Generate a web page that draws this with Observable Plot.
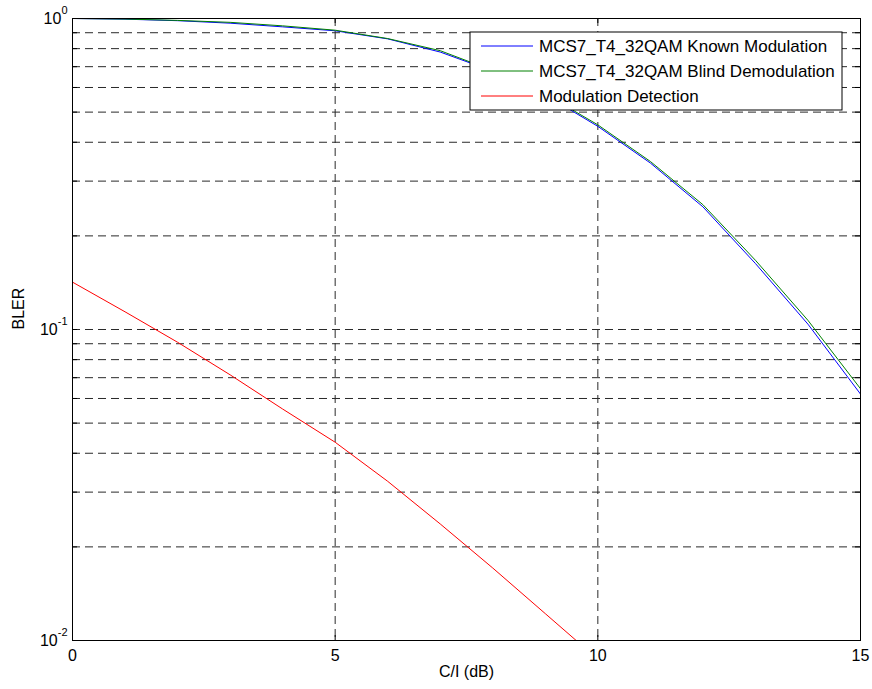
<!DOCTYPE html>
<html>
<head>
<meta charset="utf-8">
<script src="https://cdn.jsdelivr.net/npm/d3@7"></script>
<script src="https://cdn.jsdelivr.net/npm/@observablehq/plot@0.6"></script>
<style>
  html, body { margin: 0; padding: 0; background: white; }
  #chart { width: 872px; height: 689px; }
</style>
</head>
<body>
<div id="chart"></div>
<script>
// ---- data ----
const snr = [0, 1, 2, 3, 4, 5, 6, 7, 8, 9, 10, 11, 12, 13, 14, 15];
const knownMod = [1.0, 0.995, 0.984, 0.966, 0.94, 0.913, 0.86, 0.78, 0.677, 0.568, 0.45, 0.343, 0.248, 0.163, 0.104, 0.062];
const blindDemod = [1.0, 0.996, 0.986, 0.972, 0.947, 0.917, 0.862, 0.788, 0.68, 0.572, 0.455, 0.347, 0.252, 0.167, 0.107, 0.0645];
const snrDet = [0, 1, 2, 3, 4, 5, 6, 7, 8, 9, 10];
const modDetection = [0.142, 0.114, 0.091, 0.0715, 0.0555, 0.0434, 0.0325, 0.0237, 0.0171, 0.0122, 0.0087];

const seriesNames = ["MCS7_T4_32QAM Known Modulation", "MCS7_T4_32QAM Blind Demodulation", "Modulation Detection"];
const seriesColors = ["#0000ff", "#008000", "#ff0000"];

const xTicks = [0, 5, 10, 15];
const yTicks = [0.01, 0.1, 1];
const xGrid = [5, 10];
const yMinor = [0.02, 0.03, 0.04, 0.05, 0.06, 0.07, 0.08, 0.09, 0.1, 0.2, 0.3, 0.4, 0.5, 0.6, 0.7, 0.8, 0.9];
const xLabel = "C/I (dB)";
const yLabel = "BLER";

// ---- tables ----
const rows = [];
snr.forEach((x, i) => rows.push({x, y: knownMod[i], s: seriesNames[0]}));
snr.forEach((x, i) => rows.push({x, y: blindDemod[i], s: seriesNames[1]}));
snrDet.forEach((x, i) => rows.push({x, y: modDetection[i], s: seriesNames[2]}));

const W = 872, H = 689;
const M = {left: 72, right: 12, top: 18, bottom: 49};
const FONT = "'Liberation Sans', Arial, Helvetica, sans-serif";
const grid = {stroke: "#2a2a2a", strokeWidth: 1, strokeDasharray: "8,5"};
const TL = 5; // tick length (px)

const chart = Plot.plot({
  width: W,
  height: H,
  marginLeft: M.left,
  marginRight: M.right,
  marginTop: M.top,
  marginBottom: M.bottom,
  style: {fontFamily: FONT, fontSize: "16px", background: "white", color: "black"},
  x: {domain: [0, 15]},
  y: {type: "log", domain: [0.01, 1]},
  color: {domain: seriesNames, range: seriesColors},
  marks: [
    Plot.ruleY(yMinor, grid),
    Plot.ruleX(xGrid, grid),
    // inward tick marks
    Plot.ruleY(yMinor.concat(yTicks), {x1: 0, x2: 0, insetRight: -TL, stroke: "black"}),
    Plot.ruleY(yMinor.concat(yTicks), {x1: 15, x2: 15, insetLeft: -TL, stroke: "black"}),
    Plot.ruleX(xTicks, {y1: 0.01, y2: 0.01, insetBottom: TL, stroke: "black"}),
    Plot.ruleX(xTicks, {y1: 1, y2: 1, insetBottom: -TL, stroke: "black"}),
    Plot.line(rows, {x: "x", y: "y", z: "s", stroke: "s", strokeWidth: 1, clip: true}),
    Plot.frame({stroke: "black", strokeWidth: 1}),
    Plot.axisX({ticks: xTicks, tickSize: 0, tickPadding: 9, label: null, tickFormat: d => String(d)}),
    Plot.axisY({ticks: yTicks, tickSize: 0, tickPadding: 5, label: null,
                tickFormat: d => "10^" + Math.round(Math.log10(d))}),
    Plot.text([xLabel], {text: d => d, frameAnchor: "bottom", dy: 36, fontSize: 16}),
    Plot.text([yLabel], {text: d => d, frameAnchor: "left", dx: -54, rotate: -90, fontSize: 16})
  ]
});

document.getElementById("chart").appendChild(chart);

// superscript exponents on the log axis labels
d3.select(chart).selectAll('g[aria-label="y-axis tick label"] text').each(function() {
  const t = d3.select(this);
  const parts = t.text().split("^");
  if (parts.length === 2) {
    t.text(null);
    t.append("tspan").text(parts[0]);
    t.append("tspan").attr("font-size", 11).attr("dy", -10).text(parts[1]);
  }
});

// legend inside the axes (top right), like MATLAB
const plotRight = W - M.right;
const legW = 372, legH = 78;
const legX = plotRight - 18 - legW;
const legY = M.top + 14;
const lg = d3.select(chart).append("g")
  .attr("font-family", FONT).attr("font-size", 17).attr("text-anchor", "start");
lg.append("rect").attr("x", legX).attr("y", legY).attr("width", legW).attr("height", legH)
  .attr("fill", "white").attr("stroke", "black").attr("stroke-width", 1);
seriesNames.forEach((name, i) => {
  const cy = legY + 14 + i * 25;
  lg.append("line").attr("x1", legX + 11).attr("x2", legX + 63).attr("y1", cy).attr("y2", cy)
    .attr("stroke", seriesColors[i]).attr("stroke-width", 1);
  lg.append("text").attr("x", legX + 69).attr("y", cy).attr("dy", "0.36em")
    .attr("text-anchor", "start").attr("fill", "black").text(name);
});
</script>
</body>
</html>
